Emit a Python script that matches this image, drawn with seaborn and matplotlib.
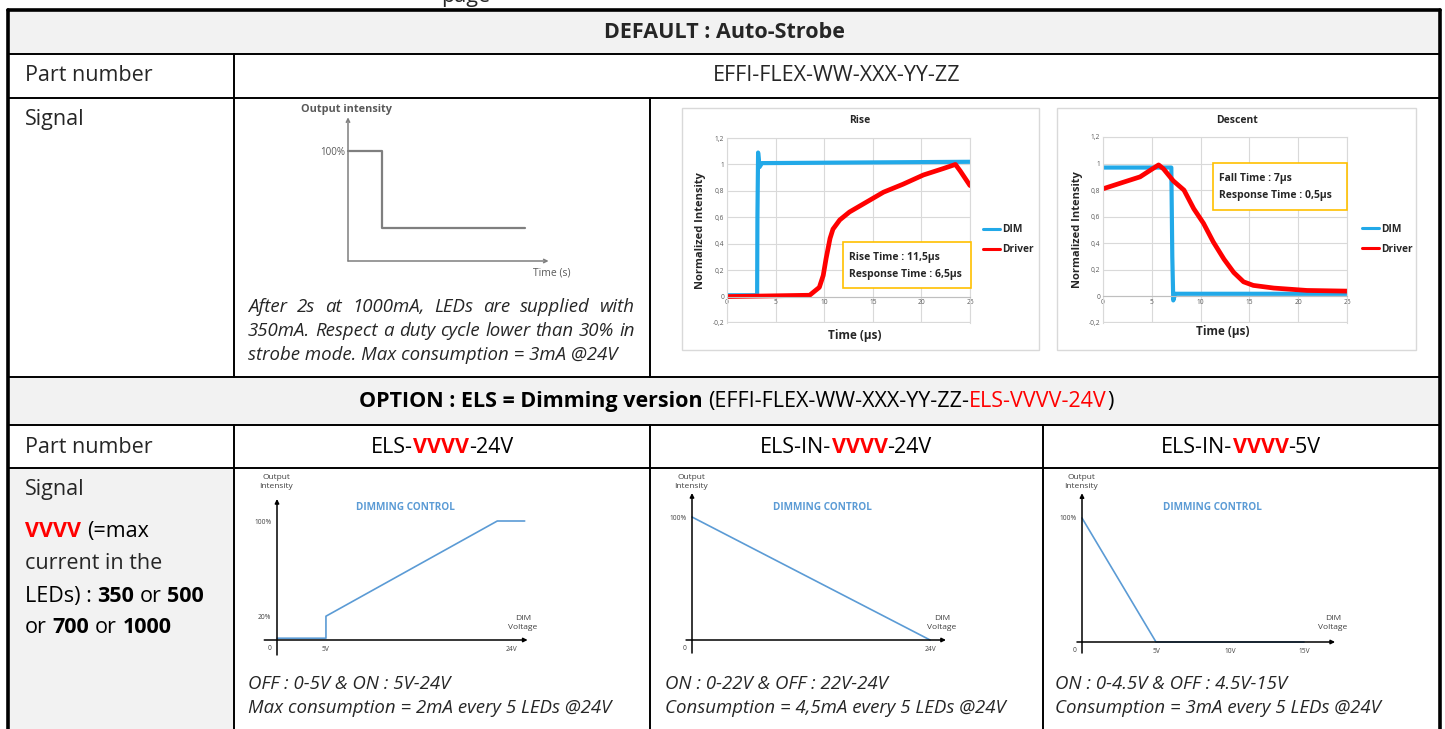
import matplotlib
matplotlib.use("Agg")
import matplotlib.pyplot as plt
import seaborn as sns
from matplotlib.patches import Rectangle

sns.set_style("white")
plt.rcParams["font.family"] = ["Open Sans", "DejaVu Sans"]

# ---------------- values ----------------
# auto-strobe sketch (time in s, output in %)
strobe_t = [0, 2, 2, 10.4]
strobe_level = [100, 100, 30, 30]

# "Rise" measurement (time in us, normalized intensity)
rise_dim_t = [0, 3.1, 3.13, 3.2, 3.35, 3.6, 25]
rise_dim_v = [0.01, 0.01, 0.6, 1.09, 0.98, 1.01, 1.02]
rise_drv_t = [0, 8.5, 9.5, 9.9, 10.2, 10.6, 10.9, 11.6, 12.6, 14, 16.1, 18.1,
              20.2, 22.3, 23.5, 24, 25]
rise_drv_v = [0.0, 0.01, 0.07, 0.16, 0.29, 0.44, 0.51, 0.58, 0.64, 0.70, 0.79,
              0.85, 0.92, 0.97, 1.0, 0.95, 0.84]

# "Descent" measurement
fall_dim_t = [0, 7.0, 7.1, 7.2, 7.4, 25]
fall_dim_v = [0.97, 0.97, 0.3, -0.03, 0.02, 0.02]
fall_drv_t = [0, 2.1, 3.8, 4.85, 5.7, 6.2, 7.2, 8.3, 9.3, 10.3, 11.3, 12.4,
              13.4, 14.4, 15.4, 17.5, 20.9, 25]
fall_drv_v = [0.81, 0.86, 0.90, 0.95, 0.99, 0.96, 0.87, 0.80, 0.66, 0.55, 0.41,
              0.28, 0.18, 0.11, 0.083, 0.063, 0.045, 0.04]

chart_yticks = [-0.2, 0, 0.2, 0.4, 0.6, 0.8, 1, 1.2]
chart_ylabels = ["-0,2", "0", "0,2", "0,4", "0,6", "0,8", "1", "1,2"]
chart_xticks = [0, 5, 10, 15, 20, 25]

# dimming control curves (DIM voltage in V, output in %)
els_v = [0, 5, 5, 22.5, 25.3]
els_i = [1.5, 1.5, 20, 100, 100]
elsin24_v = [0, 24]
elsin24_i = [100, 0]
elsin5_v = [0, 5, 15]
elsin5_i = [100, 0, 0]

RED = "#ff0000"
DIM_BLUE = "#22a9e8"
CTRL_BLUE = "#5b9bd5"
GOLD = "#ffc000"
GRAY = "#f2f2f2"
FS = 15.5      # table text
FI = 13.4      # italic notes

# ---------------- figure in pixel coordinates ----------------
W, H = 1445, 729
fig = plt.figure(figsize=(W / 100, H / 100), dpi=100)
bg = fig.add_axes([0, 0, 1, 1])
bg.set_xlim(0, W)
bg.set_ylim(H, 0)
bg.axis("off")
renderer = fig.canvas.get_renderer()


def box(l, t, r, b):
    return [l / W, 1 - b / H, (r - l) / W, (b - t) / H]


def tw(s, size, weight="normal", style="normal"):
    t = bg.text(0, 0, s, fontsize=size, fontweight=weight, fontstyle=style)
    w = t.get_window_extent(renderer).width
    t.remove()
    return w


def rich(x, y, parts, size=FS, ha="left", style="normal"):
    # parts: (text, colour, weight) drawn one after another on a baseline
    sp = tw("x x", size) - tw("xx", size)
    items = []
    for s, c, w in parts:
        lead = len(s) - len(s.lstrip(" "))
        trail = len(s) - len(s.rstrip(" "))
        core = s.strip(" ")
        items.append((lead * sp, core, c, w, tw(core, size, w, style), trail * sp))
    total = sum(a + wd + b for a, _, _, _, wd, b in items)
    cx = x - total / 2 if ha == "center" else x
    for a, core, c, w, wd, b in items:
        cx += a
        bg.text(cx, y, core, color=c, fontsize=size, fontweight=w,
                fontstyle=style, va="baseline", ha="left")
        cx += wd + b


def justify(x0, x1, y, line, size=FI):
    words = line.split()
    ws = [tw(w, size, style="italic") for w in words]
    gap = (x1 - x0 - sum(ws)) / (len(words) - 1)
    cx = x0
    for w, wd in zip(words, ws):
        bg.text(cx, y, w, fontsize=size, fontstyle="italic", va="baseline")
        cx += wd + gap


# ---------------- table ----------------
for l, t, r, b in [(8, 10, 1440, 54), (8, 377, 1440, 425), (8, 468, 234, 729)]:
    bg.add_patch(Rectangle((l, t), r - l, b - t, color=GRAY, lw=0))

for y in [54, 98, 377, 425, 468]:
    bg.plot([8, 1440], [y, y], color="k", lw=1.4)
for x, segs in [(234, [(54, 377), (425, 729)]), (650, [(98, 377), (425, 729)]),
                (1043, [(425, 729)])]:
    for t, b in segs:
        bg.plot([x, x], [t, b], color="k", lw=1.4)
bg.plot([8, 1440], [10, 10], color="k", lw=2.6)
bg.plot([8, 8], [10, 729], color="k", lw=2.6)
bg.plot([1440, 1440], [10, 729], color="k", lw=2.6)

bg.text(441, 2, "page", fontsize=FS, va="baseline")
bg.text(724, 38, "DEFAULT : Auto-Strobe", fontsize=FS, fontweight="bold",
        ha="center", va="baseline")
bg.text(25, 81, "Part number", fontsize=FS, va="baseline")
bg.text(837, 81, "EFFI-FLEX-WW-XXX-YY-ZZ", fontsize=FS, ha="center", va="baseline")
bg.text(25, 125, "Signal", fontsize=FS, va="baseline")

rich(736, 407, [("OPTION : ELS = Dimming version", "k", "bold"),
                (" (EFFI-FLEX-WW-XXX-YY-ZZ-", "k", "normal"),
                ("ELS-VVVV-24V", RED, "normal"), (")", "k", "normal")], ha="center")
bg.text(25, 453, "Part number", fontsize=FS, va="baseline")
rich(442, 453, [("ELS-", "k", "normal"), ("VVVV", RED, "bold"), ("-24V", "k", "normal")], ha="center")
rich(846, 453, [("ELS-IN-", "k", "normal"), ("VVVV", RED, "bold"), ("-24V", "k", "normal")], ha="center")
rich(1241, 453, [("ELS-IN-", "k", "normal"), ("VVVV", RED, "bold"), ("-5V", "k", "normal")], ha="center")

bg.text(25, 495, "Signal", fontsize=FS, va="baseline")
rich(25, 537, [("VVVV", RED, "bold"), (" (=max", "k", "normal")])
bg.text(25, 569, "current in the", fontsize=FS, va="baseline")
rich(25, 602, [("LEDs) : ", "k", "normal"), ("350", "k", "bold"),
               (" or ", "k", "normal"), ("500", "k", "bold")])
rich(25, 633, [("or ", "k", "normal"), ("700", "k", "bold"),
               (" or ", "k", "normal"), ("1000", "k", "bold")])

# italic notes
justify(248, 635, 312, "After 2s at 1000mA, LEDs are supplied with")
justify(248, 635, 336, "350mA. Respect a duty cycle lower than 30% in")
bg.text(248, 360, "strobe mode. Max consumption = 3mA @24V", fontsize=FI,
        fontstyle="italic", va="baseline")
for x, l1, l2 in [(248, "OFF : 0-5V & ON : 5V-24V", "Max consumption = 2mA every 5 LEDs @24V"),
                  (665, "ON : 0-22V & OFF : 22V-24V", "Consumption = 4,5mA every 5 LEDs @24V"),
                  (1055, "ON : 0-4.5V & OFF : 4.5V-15V", "Consumption = 3mA every 5 LEDs @24V")]:
    bg.text(x, 689, l1, fontsize=FI, fontstyle="italic", va="baseline")
    bg.text(x, 713, l2, fontsize=FI, fontstyle="italic", va="baseline")

# frames of the two measurement pictures
for l, t, r, b in [(682, 108, 1039, 350), (1057, 108, 1416, 350)]:
    bg.add_patch(Rectangle((l, t), r - l, b - t, fc="white", ec="#d9d9d9", lw=1))


# ---------------- measurement charts ----------------
def excel_chart(px, dim_t, dim_v, drv_t, drv_v, title, title_xy, ylab_x, xlab_xy, leg_x):
    ax = fig.add_axes(box(*px))
    sns.lineplot(x=dim_t, y=dim_v, color=DIM_BLUE, lw=3.0, label="DIM",
                 estimator=None, sort=False, ax=ax)
    sns.lineplot(x=drv_t, y=drv_v, color=RED, lw=3.4, label="Driver",
                 estimator=None, sort=False, ax=ax)
    ax.set_xlim(0, 25)
    ax.set_ylim(-0.2, 1.2)
    ax.set_xticks(chart_xticks)
    ax.set_yticks(chart_yticks, chart_ylabels)
    ax.grid(True, color="#d9d9d9", lw=0.8)
    ax.set_axisbelow(True)
    for s in ax.spines.values():
        s.set_color("#d9d9d9")
        s.set_linewidth(0.8)
    ax.spines["bottom"].set_position(("data", 0))
    ax.spines["bottom"].set_color("#bfbfbf")
    ax.axhline(-0.2, color="#d9d9d9", lw=1.6)
    ax.tick_params(labelsize=4.8, labelcolor="#595959", length=0, pad=2)
    ax.set_ylabel("Normalized Intensity", fontsize=8, fontweight="bold")
    ax.yaxis.set_label_coords(ylab_x, 0.5)
    ax.set_xlabel("Time (µs)", fontsize=8.5, fontweight="bold")
    ax.xaxis.set_label_coords(*xlab_xy)
    ax.text(*title_xy, title, transform=ax.transAxes, ha="center", va="center",
            fontsize=7.5, fontweight="bold")
    leg = ax.legend(loc="center left", bbox_to_anchor=(leg_x, 0.45), frameon=False,
                    prop=dict(size=7.3, weight="bold"), handlelength=1.7,
                    handletextpad=0.2, labelspacing=0.9, borderpad=0, borderaxespad=0)
    for ln in leg.get_lines():
        ln.set_linewidth(2.2)
    return ax


excel_chart((727, 138, 970, 323), rise_dim_t, rise_dim_v, rise_drv_t, rise_drv_v,
            "Rise", (0.547, 1.092), -0.086, (0.527, -0.03), 1.053)
excel_chart((1103, 137, 1347, 323), fall_dim_t, fall_dim_v, fall_drv_t, fall_drv_v,
            "Descent", (0.549, 1.091), -0.082, (0.49, -0.01), 1.061)


# ---------------- sketch diagrams ----------------
def diagram(px, x0px, xs, y0px, ys, xv, yv, color, lw, xb, yb,
            xticks, xlabels, yticks, ylabels, arrow="-|>", acolor="k", tlen=4):
    l, t, r, b = px
    ax = fig.add_axes(box(*px))
    ax.set_xlim((l - x0px) / xs, (r - x0px) / xs)
    ax.set_ylim((y0px - b) / ys, (y0px - t) / ys)
    sns.lineplot(x=xv, y=yv, color=color, lw=lw, estimator=None, sort=False, ax=ax)
    for s in ax.spines.values():
        s.set_visible(False)
    ax.spines["left"].set_position(("data", 0))
    ax.spines["bottom"].set_position(("data", 0))
    ax.set_xticks(xticks, xlabels)
    ax.set_yticks(yticks, ylabels)
    ax.tick_params(direction="inout", length=tlen, width=0.8, labelsize=4.8,
                   labelcolor="#404040", pad=2)
    ax.patch.set_visible(False)
    ap = dict(arrowstyle=arrow, color=acolor, lw=1.1, shrinkA=0, shrinkB=0,
              mutation_scale=6)
    ax.annotate("", xy=(xb[1], 0), xytext=(xb[0], 0), arrowprops=ap)
    ax.annotate("", xy=(0, yb[1]), xytext=(0, yb[0]), arrowprops=ap)
    return ax


# auto-strobe
sa = diagram((300, 100, 570, 285), 348, 17, 261, 1.097, strobe_t, strobe_level,
             "#7f7f7f", 1.6, (0, 11.8), (0, 131), [], [], [100], ["100%"],
             arrow="->", acolor="#7f7f7f", tlen=0)
sa.tick_params(labelsize=7, labelcolor="#595959")
bg.text(346, 109, "Output intensity", fontsize=7.8, fontweight="bold",
        color="#595959", ha="center", va="center")
bg.text(552, 273, "Time (s)", fontsize=7.5, color="#595959", ha="center", va="center")

for px, x0, xs, y0, ys, xv, yv, xb, yb, xt, xl, yt, yl, ctrl_x, dim_x in [
    ((250, 480, 545, 665), 277, 9.79, 640, 1.19, els_v, els_i, (-1.3, 25.6),
     (-12.6, 118.5), [5, 24], ["5V", "24V"], [20, 100], ["20%", "100%"], 405, 523),
    ((665, 480, 960, 665), 692, 9.92, 640, 1.23, elsin24_v, elsin24_i, (-0.6, 25.6),
     (-10.6, 119.5), [24], ["24V"], [100], ["100%"], 822, 942),
    ((1055, 480, 1350, 665), 1082, 14.8, 642, 1.24, elsin5_v, elsin5_i, (-0.34, 17.1),
     (-8.9, 120), [5, 10, 15], ["5V", "10V", "15V"], [100], ["100%"], 1212, 1333),
]:
    ax = diagram(px, x0, xs, y0, ys, xv, yv, CTRL_BLUE, 1.2, xb, yb, xt, xl, yt, yl)
    ax.annotate("0", xy=(0, 0), xytext=(-4, -6), textcoords="offset points",
                ha="right", va="center", fontsize=4.8, color="#404040")
    bg.text(x0 - 1, 482, "Output\nIntensity", fontsize=6, color="#404040",
            ha="center", va="center", linespacing=1.25)
    bg.text(ctrl_x, 507, "DIMMING CONTROL", fontsize=7.2, fontweight="bold",
            color=CTRL_BLUE, ha="center", va="center")
    bg.text(dim_x, 623, "DIM\nVoltage", fontsize=6, color="#404040",
            ha="center", va="center", linespacing=1.25)

# ---------------- annotation boxes on top ----------------
fg = fig.add_axes([0, 0, 1, 1], zorder=10)
fg.set_xlim(0, W)
fg.set_ylim(H, 0)
fg.axis("off")
for (l, t, r, b), lines in [((843, 242, 971, 288), ["Rise Time : 11,5µs", "Response Time : 6,5µs"]),
                            ((1213, 163, 1347, 210), ["Fall Time : 7µs", "Response Time : 0,5µs"])]:
    fg.add_patch(Rectangle((l, t), r - l, b - t, fc="white", ec=GOLD, lw=1.2))
    fg.text(l + 6, t + 15, lines[0], fontsize=7.5, fontweight="bold", va="center")
    fg.text(l + 6, t + 32, lines[1], fontsize=7.5, fontweight="bold", va="center")

fig.savefig("out.png", dpi=100, facecolor="white")
